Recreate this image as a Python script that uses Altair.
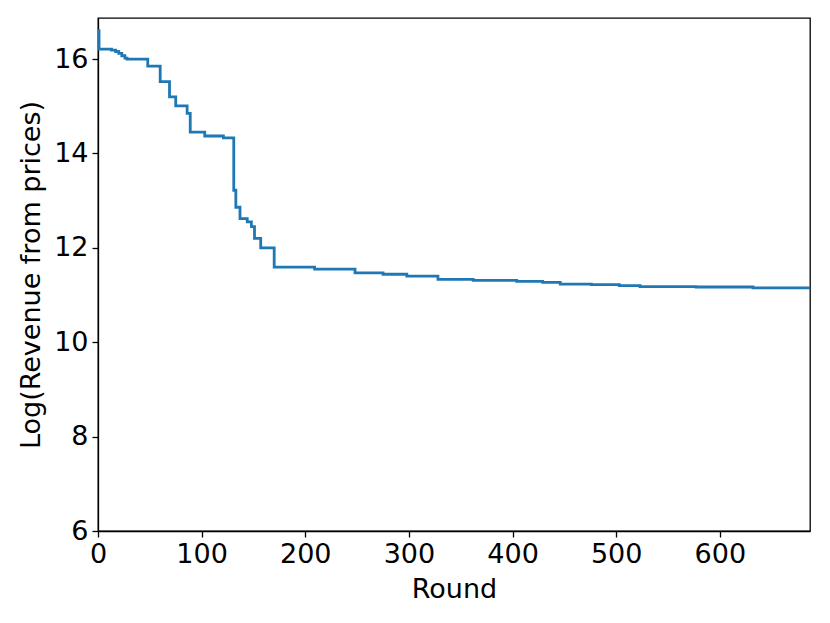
import altair as alt
import pandas as pd

rounds = [0, 1, 13, 17, 20, 23, 26, 28, 48, 60, 69, 75, 86, 89, 103, 121, 131, 133,
          137, 144, 148, 151, 157, 170, 209, 248, 275, 298, 328, 362, 404, 429, 446,
          476, 503, 523, 577, 632, 687]
revenue = [16.60, 16.21, 16.19, 16.16, 16.12, 16.07, 16.02, 16.00, 15.85, 15.52, 15.20,
           15.01, 14.85, 14.45, 14.37, 14.33, 13.22, 12.86, 12.62, 12.55, 12.45, 12.20,
           12.00, 11.59, 11.55, 11.47, 11.44, 11.40, 11.33, 11.31, 11.29, 11.27, 11.23,
           11.22, 11.20, 11.18, 11.17, 11.15, 11.13]
x_ticks = [0, 100, 200, 300, 400, 500, 600]
y_ticks = [6, 8, 10, 12, 14, 16]

df = pd.DataFrame({"Round": rounds, "Revenue": revenue})

chart = alt.Chart(df).mark_line(
    interpolate="step-after", color="#1f77b4", strokeWidth=2.8, clip=True
).encode(
    x=alt.X("Round:Q", title="Round",
            scale=alt.Scale(domain=[0, 687], nice=False, zero=False),
            axis=alt.Axis(values=x_ticks, labelFlush=False, titlePadding=9)),
    y=alt.Y("Revenue:Q", title="Log(Revenue from prices)",
            scale=alt.Scale(domain=[6, 16.87], nice=False, zero=False),
            axis=alt.Axis(values=y_ticks, titlePadding=8)),
).properties(
    width=712, height=513,
    autosize=alt.AutoSizeParams(type="none"),
    padding={"left": 90, "top": 10, "right": 10, "bottom": 80},
).configure_view(
    stroke="black", strokeWidth=1.3
).configure_axis(
    grid=False, domainColor="black", tickColor="black", labelColor="black",
    titleColor="black", labelFont="DejaVu Sans", titleFont="DejaVu Sans",
    labelFontSize=27, titleFontSize=27, titleFontWeight="normal",
    tickSize=6, labelPadding=4, domainWidth=1.3, tickWidth=1.3,
)

chart.save("out.html", embed_options={"renderer": "svg", "actions": False})
